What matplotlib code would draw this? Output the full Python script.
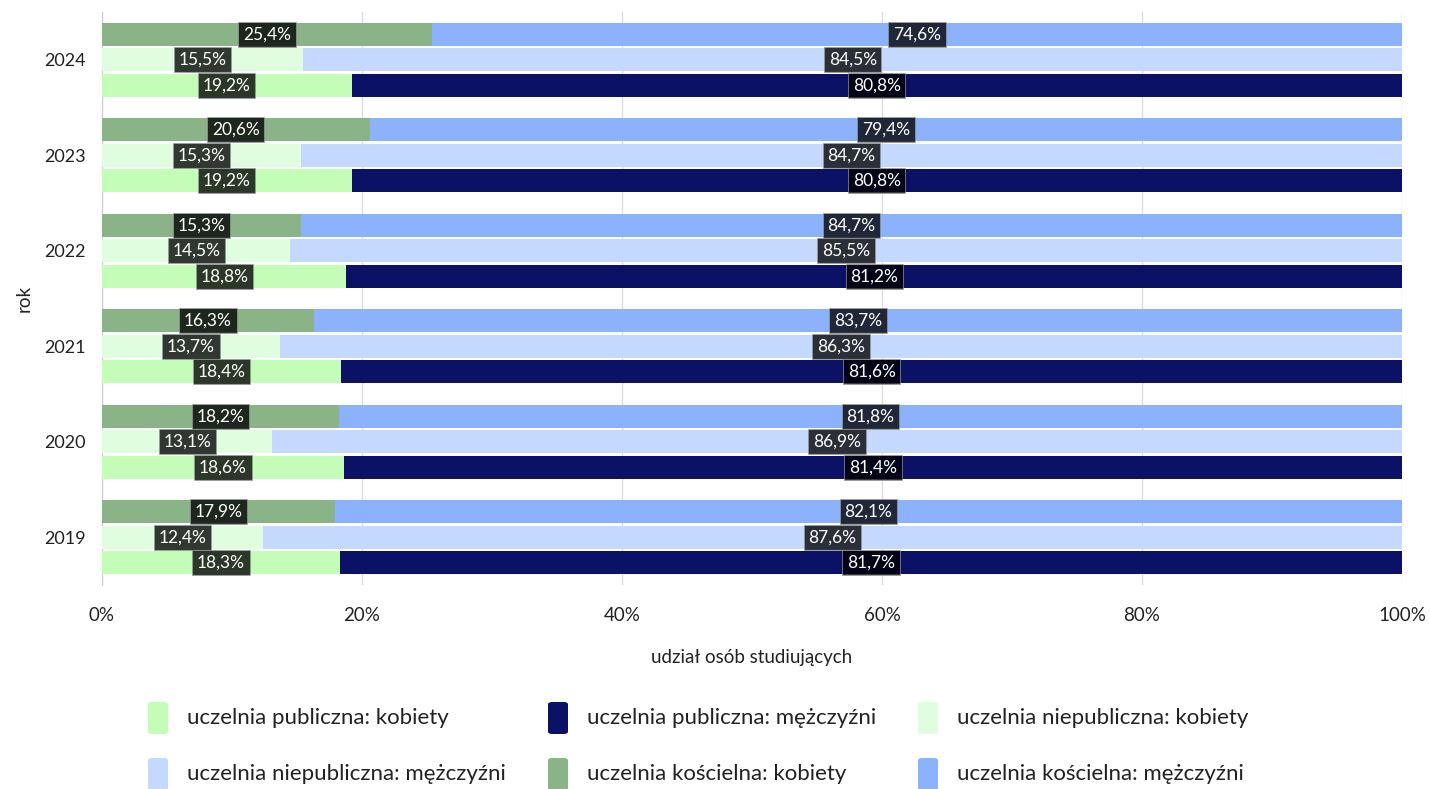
import matplotlib
matplotlib.use("Agg")
import matplotlib.pyplot as plt
from matplotlib.patches import FancyBboxPatch
from matplotlib.ticker import FuncFormatter

plt.rcParams['font.family'] = ['Lato', 'DejaVu Sans']

years = ["2019", "2020", "2021", "2022", "2023", "2024"]

# shares (%) of women and men per type of university
publ_k = [18.3, 18.6, 18.4, 18.8, 19.2, 19.2]
publ_m = [81.7, 81.4, 81.6, 81.2, 80.8, 80.8]
niepubl_k = [12.4, 13.1, 13.7, 14.5, 15.3, 15.5]
niepubl_m = [87.6, 86.9, 86.3, 85.5, 84.7, 84.5]
kosc_k = [17.9, 18.2, 16.3, 15.3, 20.6, 25.4]
kosc_m = [82.1, 81.8, 83.7, 84.7, 79.4, 74.6]

series_names = [
    "uczelnia publiczna: kobiety",
    "uczelnia publiczna: mężczyźni",
    "uczelnia niepubliczna: kobiety",
    "uczelnia niepubliczna: mężczyźni",
    "uczelnia kościelna: kobiety",
    "uczelnia kościelna: mężczyźni",
]
colors = ["#c3fdb8", "#0b1265", "#e0fde0", "#c5d8fd", "#8ab387", "#8cb1fd"]

fig = plt.figure(figsize=(14.3, 7.89), dpi=100)
ax = fig.add_axes([102 / 1430, 1 - 585 / 789, 1300 / 1430, 573 / 789])

bar_h = 0.245
offsets = [-0.267, 0.0, 0.267]  # publiczna (bottom), niepubliczna, kościelna (top)
groups = [(publ_k, publ_m), (niepubl_k, niepubl_m), (kosc_k, kosc_m)]

def label(x, y, v):
    ax.text(x, y, f"{v:.1f}%".replace(".", ","), ha="center", va="center",
            color="white", fontsize=12.5,
            bbox=dict(boxstyle="square,pad=0.27", facecolor="black", alpha=0.78,
                      edgecolor="#9aa0a0", linewidth=0.6), zorder=5)

for gi, (kob, mez) in enumerate(groups):
    ck, cm = colors[2 * gi], colors[2 * gi + 1]
    ypos = [i + offsets[gi] for i in range(len(years))]
    ax.barh(ypos, kob, height=bar_h, color=ck, zorder=3)
    ax.barh(ypos, mez, left=kob, height=bar_h, color=cm, zorder=3)
    for y, k, m in zip(ypos, kob, mez):
        label(k / 2, y, k)
        label(k + m / 2, y, m)

ax.set_xlim(0, 100)
ax.set_ylim(-0.5, len(years) - 0.5)
ax.set_yticks(range(len(years)))
ax.set_yticklabels(years, fontsize=13, color="#222222")
ax.set_xticks([0, 20, 40, 60, 80, 100])
ax.xaxis.set_major_formatter(FuncFormatter(lambda v, p: f"{v:.0f}%"))
ax.tick_params(axis="x", length=0, pad=16, labelsize=13.5, labelcolor="#222222")
ax.tick_params(axis="y", length=0, pad=12)
ax.grid(axis="x", color="#dddddd", linewidth=1, zorder=0)
for s in ["top", "right", "bottom"]:
    ax.spines[s].set_visible(False)
ax.spines["left"].set_color("#cccccc")
ax.set_xlabel("udział osób studiujących", fontsize=13.5, color="#222222", labelpad=18)
ax.set_ylabel("rok", fontsize=13.5, color="#222222", labelpad=8)

# legend drawn as rows of rounded swatches with labels
col_x = [148, 548, 918]
row_y = [718, 774]
for i, (name, c) in enumerate(zip(series_names, colors)):
    r, col = divmod(i, 3)
    x0 = col_x[col] / 1430
    yc = 1 - row_y[r] / 789
    w, h = 20 / 1430, 32 / 789
    fig.patches.append(FancyBboxPatch((x0, yc - h / 2), w, h,
                                      boxstyle="round,pad=0,rounding_size=0.003",
                                      transform=fig.transFigure, facecolor=c,
                                      edgecolor="none"))
    fig.text(x0 + 39 / 1430, yc, name, ha="left", va="center", fontsize=16,
             color="#222222")

fig.savefig("out.png", dpi=100)
